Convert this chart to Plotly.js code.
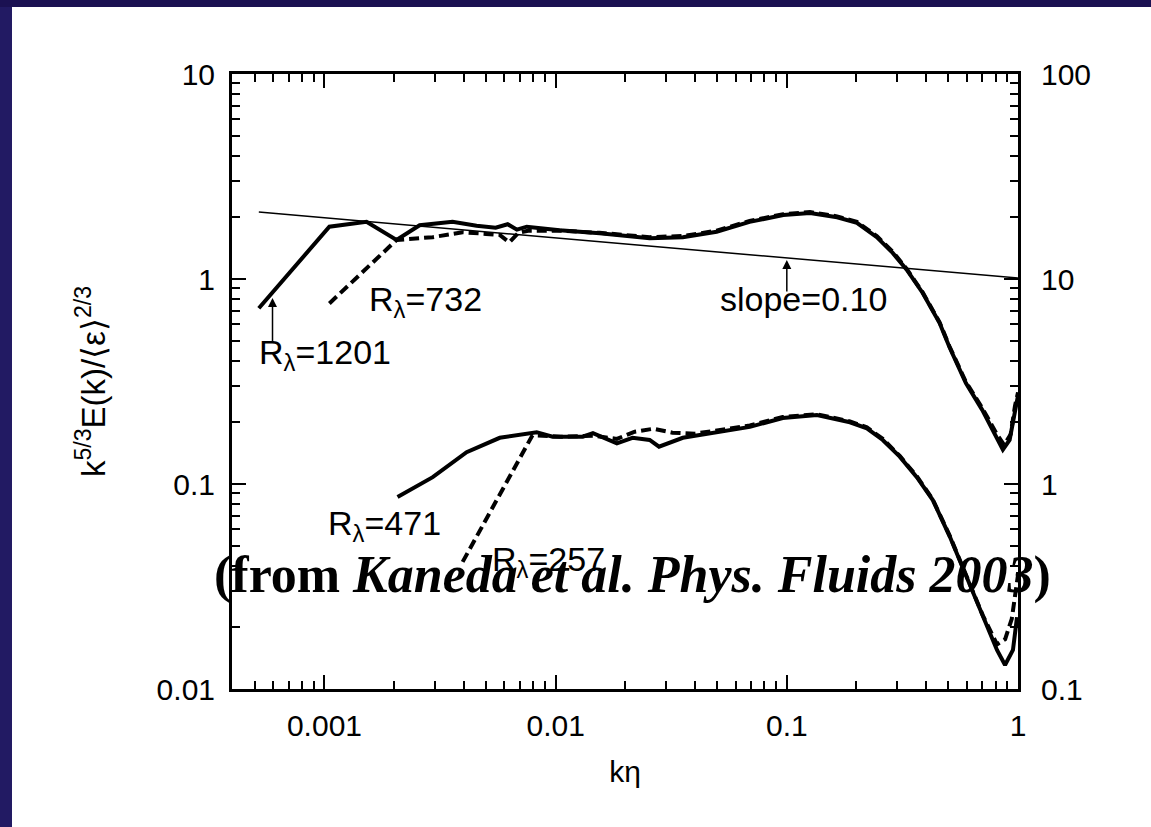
<!DOCTYPE html>
<html>
<head>
<meta charset="utf-8">
<script src="https://cdn.plot.ly/plotly-3.0.1.min.js"></script>
<style>
  html, body { margin: 0; padding: 0; width: 1151px; height: 827px; overflow: hidden; background: #221a63; }
  #topbar { position: absolute; left: 0; top: 0; width: 1151px; height: 7px; background: #1b1152; }
  #chart { position: absolute; left: 12px; top: 7px; width: 1139px; height: 820px; background: #ffffff; }
</style>
</head>
<body>
<div id="topbar"></div>
<div id="chart"></div>
<script>
// ---- data ----
// upper curves (left axis)
const kUp1201 = [5.2e-4, 1.05e-3, 1.52e-3, 2.05e-3, 2.58e-3, 3.58e-3, 4.55e-3, 5.5e-3, 6.2e-3, 6.8e-3, 7.5e-3, 0.0104, 0.0155, 0.0255, 0.0355, 0.0497, 0.069, 0.0965, 0.126, 0.165, 0.201, 0.245, 0.287, 0.33, 0.387, 0.458, 0.505, 0.595, 0.70, 0.81, 0.86, 0.92, 0.97, 1.0];
const eUp1201 = [0.72, 1.80, 1.90, 1.55, 1.83, 1.90, 1.82, 1.78, 1.85, 1.74, 1.80, 1.73, 1.67, 1.58, 1.60, 1.70, 1.90, 2.05, 2.10, 2.00, 1.88, 1.60, 1.34, 1.11, 0.855, 0.61, 0.466, 0.311, 0.23, 0.17, 0.147, 0.164, 0.23, 0.27];

const kUp732 = [1.05e-3, 2.05e-3, 2.94e-3, 3.96e-3, 5.0e-3, 5.73e-3, 6.3e-3, 6.9e-3, 7.6e-3, 0.0104, 0.0155, 0.0255, 0.0355, 0.0497, 0.069, 0.0965, 0.126, 0.165, 0.201, 0.245, 0.287, 0.33, 0.387, 0.458, 0.505, 0.595, 0.70, 0.81, 0.87, 0.93, 0.97, 1.0];
const eUp732 = [0.76, 1.55, 1.60, 1.69, 1.66, 1.64, 1.51, 1.68, 1.72, 1.72, 1.68, 1.60, 1.62, 1.72, 1.92, 2.07, 2.12, 2.02, 1.90, 1.62, 1.36, 1.12, 0.86, 0.615, 0.47, 0.315, 0.235, 0.175, 0.155, 0.175, 0.24, 0.28];

// lower curves (right axis)
const kLo471 = [2.07e-3, 2.94e-3, 4.12e-3, 5.73e-3, 8.28e-3, 9.7e-3, 0.0131, 0.0145, 0.0184, 0.0215, 0.0255, 0.028, 0.0355, 0.05, 0.0692, 0.096, 0.135, 0.1875, 0.222, 0.26, 0.308, 0.365, 0.428, 0.508, 0.601, 0.705, 0.811, 0.879, 0.951, 0.99];
const eLo471 = [0.865, 1.08, 1.43, 1.68, 1.79, 1.70, 1.70, 1.77, 1.58, 1.68, 1.64, 1.52, 1.68, 1.78, 1.90, 2.10, 2.17, 2.00, 1.87, 1.64, 1.36, 1.08, 0.835, 0.551, 0.352, 0.224, 0.155, 0.131, 0.155, 0.224];

const kLo257 = [3.96e-3, 7.94e-3, 0.0105, 0.0145, 0.0184, 0.022, 0.0265, 0.032, 0.04, 0.05, 0.0692, 0.096, 0.135, 0.1875, 0.222, 0.26, 0.308, 0.365, 0.428, 0.508, 0.601, 0.705, 0.811, 0.88, 0.94, 0.98, 1.0];
const eLo257 = [0.417, 1.73, 1.70, 1.72, 1.66, 1.80, 1.86, 1.78, 1.76, 1.82, 1.93, 2.12, 2.19, 2.02, 1.89, 1.66, 1.37, 1.09, 0.84, 0.555, 0.355, 0.228, 0.165, 0.175, 0.22, 0.30, 0.36];

// reference line, slope 0.10
const kSlope = [5.2e-4, 1.0];
const eSlope = [2.12, 1.01];

// tick labels
const xTickVals = [0.001, 0.01, 0.1, 1];
const xTickText = ['0.001', '0.01', '0.1', '1'];
const yTickVals = [0.01, 0.1, 1, 10];
const yTickText = ['0.01', '0.1', '1', '10'];
const y2TickVals = [0.1, 1, 10, 100];
const y2TickText = ['0.1', '1', '10', '100'];

// minor tick positions (2..9 of each decade)
function minorTicks(d0, d1) {
  const out = [];
  for (let d = d0; d <= d1; d++) for (let m = 2; m <= 9; m++) out.push(m * Math.pow(10, d));
  return out;
}

const FONT = 'Liberation Sans, Arial, Helvetica, sans-serif';
const L = Math.log10;

const thick = { color: '#000', width: 4 };
const dashed = { color: '#000', width: 4, dash: '10px,5px' };

const traces = [
  { x: kSlope, y: eSlope, mode: 'lines', line: { color: '#000', width: 1.5 }, name: 'slope', xaxis: 'x', yaxis: 'y' },
  { x: kUp732, y: eUp732, mode: 'lines', line: dashed, name: 'Rλ=732', xaxis: 'x', yaxis: 'y' },
  { x: kUp1201, y: eUp1201, mode: 'lines', line: thick, name: 'Rλ=1201', xaxis: 'x', yaxis: 'y' },
  { x: kLo257, y: eLo257, mode: 'lines', line: dashed, name: 'Rλ=257', xaxis: 'x', yaxis: 'y2' },
  { x: kLo471, y: eLo471, mode: 'lines', line: thick, name: 'Rλ=471', xaxis: 'x', yaxis: 'y2' }
];

const axisCommon = {
  type: 'log',
  showgrid: false, zeroline: false,
  showline: true, linecolor: '#000', linewidth: 3, mirror: 'ticks',
  ticks: 'inside', ticklen: 14, tickwidth: 2, tickcolor: '#000',
  tickfont: { family: FONT, size: 30, color: '#000' },
  tickmode: 'array'
};

const annFont = { family: FONT, size: 34, color: '#000' };

const layout = {
  width: 1139, height: 820,
  margin: { l: 220, r: 133, t: 67, b: 138 },
  paper_bgcolor: '#ffffff', plot_bgcolor: '#ffffff',
  showlegend: false,
  xaxis: Object.assign({}, axisCommon, {
    range: [-3.4, 0],
    tickvals: xTickVals, ticktext: xTickText,
    ticklabelstandoff: 8,
    minor: { tickmode: 'array', tickvals: minorTicks(-4, -1), ticks: 'inside', ticklen: 8, tickwidth: 2, tickcolor: '#000', showgrid: false },
    title: { text: 'kη', font: { family: FONT, size: 30, color: '#000' }, standoff: 20 }
  }),
  yaxis: Object.assign({}, axisCommon, {
    range: [-2, 1],
    tickvals: yTickVals, ticktext: yTickText,
    ticklabelstandoff: 8,
    minor: { tickmode: 'array', tickvals: minorTicks(-2, 0), ticks: 'inside', ticklen: 8, tickwidth: 2, tickcolor: '#000', showgrid: false },
    title: { text: 'k<sup>5/3</sup>E(k)/⟨ε⟩<sup>2/3</sup>', font: { family: FONT, size: 33, color: '#000' }, standoff: 42 }
  }),
  yaxis2: {
    type: 'log', overlaying: 'y', side: 'right', anchor: 'x',
    range: [-1, 2],
    showgrid: false, zeroline: false, showline: false,
    ticks: '', tickmode: 'array', tickvals: y2TickVals, ticktext: y2TickText,
    ticklabelstandoff: 22,
    tickfont: { family: FONT, size: 30, color: '#000' }
  },
  annotations: [
    { xref: 'x', yref: 'y', x: L(5.13e-4), y: L(0.43), text: 'R<sub>λ</sub>=1201', showarrow: false, xanchor: 'left', yanchor: 'middle', font: annFont },
    { xref: 'x', yref: 'y', x: L(1.53e-3), y: L(0.78), text: 'R<sub>λ</sub>=732', showarrow: false, xanchor: 'left', yanchor: 'middle', font: annFont },
    { xref: 'x', yref: 'y', x: L(0.0502), y: L(0.80), text: 'slope=0.10', showarrow: false, xanchor: 'left', yanchor: 'middle', font: annFont },
    { xref: 'x', yref: 'y', x: L(1.02e-3), y: L(0.0625), text: 'R<sub>λ</sub>=471', showarrow: false, xanchor: 'left', yanchor: 'middle', font: annFont },
    { xref: 'x', yref: 'y', x: L(5.18e-3), y: L(0.042), text: 'R<sub>λ</sub>=257', showarrow: false, xanchor: 'left', yanchor: 'middle', font: annFont },
    { xref: 'x', yref: 'y', x: L(5.96e-4), y: L(0.807), text: '', showarrow: true, ax: 0, ay: 45, arrowhead: 2, arrowsize: 1.2, arrowwidth: 1.5, arrowcolor: '#000', standoff: 0 },
    { xref: 'x', yref: 'y', x: L(0.1), y: L(1.238), text: '', showarrow: true, ax: 0, ay: 33, arrowhead: 2, arrowsize: 1.2, arrowwidth: 1.5, arrowcolor: '#000', standoff: 0 },
    { xref: 'paper', yref: 'paper', x: -0.025, y: 0.185, text: '<b>(from <i>Kaneda et al. Phys. Fluids 2003</i>)</b>', showarrow: false, xanchor: 'left', yanchor: 'middle',
      font: { family: 'Liberation Serif, Times New Roman, serif', size: 52, color: '#000' } }
  ]
};

Plotly.newPlot('chart', traces, layout, { displayModeBar: false, staticPlot: true });
</script>
</body>
</html>
